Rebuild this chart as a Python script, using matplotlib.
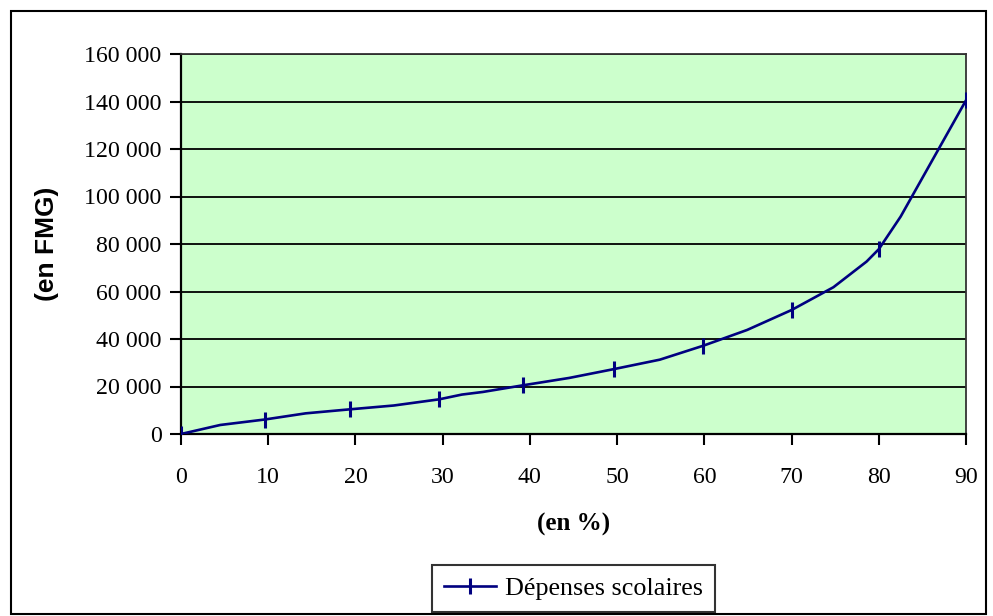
import matplotlib
matplotlib.use("Agg")
from matplotlib import pyplot as plt
from matplotlib.patches import Rectangle
from matplotlib.ticker import FuncFormatter

# share of population (en %) and cumulative school spending (en FMG)
pct = [0, 4.5, 9.6, 14.3, 19.4, 24.4, 29.6, 32.2, 34.6, 39.2, 44.5,
       49.6, 54.9, 59.9, 64.9, 70.0, 74.8, 78.6, 80.0, 82.5, 90.0]
depenses = [0, 3800, 6100, 8700, 10400, 12000, 14600, 16600, 17700, 20500, 23600,
            27300, 31300, 37200, 43800, 52200, 61800, 72600, 77800, 91500, 140500]
# points carrying a marker
marked = [0, 2, 4, 6, 9, 11, 13, 15, 18, 20]

serif = "Liberation Serif"

fig = plt.figure(figsize=(9.93, 6.16), dpi=100)
fig.patches.append(Rectangle((11 / 993, 2 / 616), 975 / 993, 603 / 616,
                             transform=fig.transFigure, fill=False,
                             edgecolor="black", linewidth=1.5))

ax = fig.add_axes([181 / 993, 1 - 434 / 616, 785 / 993, 380 / 616])
ax.set_facecolor("#ccffcc")
ax.plot(pct, depenses, color="#000080", linewidth=1.9, marker="|",
        markevery=marked, markersize=12, markeredgewidth=2.2,
        label="Dépenses scolaires", zorder=3)

ax.set_xlim(0, 90)
ax.set_ylim(0, 160000)
ax.set_xticks(range(0, 91, 10))
ax.set_yticks(range(0, 160001, 20000))
ax.yaxis.set_major_formatter(FuncFormatter(lambda v, p: f"{int(v):,}".replace(",", " ")))
ax.grid(axis="y", color="black", linewidth=1.3)
ax.set_axisbelow(True)

for s in ["left", "bottom"]:
    ax.spines[s].set_linewidth(1.6)
for s in ["top", "right"]:
    ax.spines[s].set_color("#333333")
    ax.spines[s].set_linewidth(1.3)
ax.tick_params(direction="out", length=8, width=1.5, pad=6, labelsize=17.2)
for lab in ax.get_xticklabels() + ax.get_yticklabels():
    lab.set_family(serif)
ax.tick_params(axis="x", pad=16)

ax.set_xlabel("(en %)", fontsize=18, fontweight="bold", family=serif, labelpad=18)
ax.set_ylabel("(en FMG)", fontsize=19, fontweight="bold", family="Liberation Sans", labelpad=18)

leg = ax.legend(loc="upper center", bbox_to_anchor=(0.5, -0.345), frameon=True,
                fancybox=False, edgecolor="black", prop={"family": serif, "size": 18.8},
                handlelength=2.0, borderpad=0.45, handletextpad=0.35, borderaxespad=0)
leg.get_frame().set_linewidth(1.5)

fig.savefig("out.png", dpi=100)
